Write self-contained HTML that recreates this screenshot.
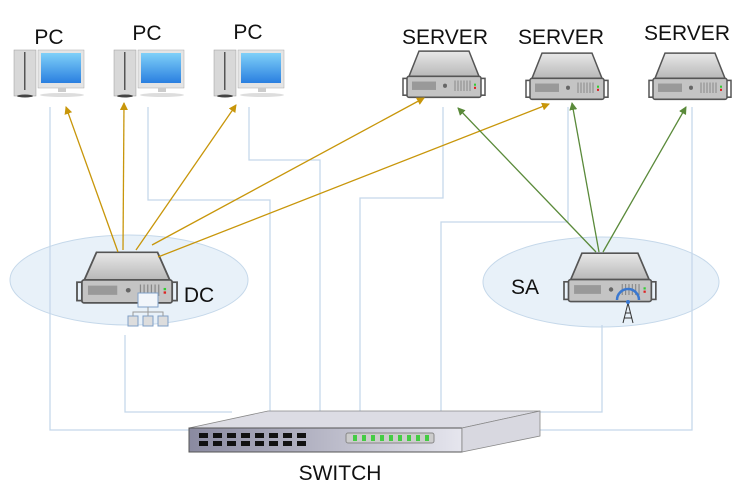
<!DOCTYPE html>
<html><head><meta charset="utf-8"><style>
body{margin:0;background:#fff;}
svg{display:block;font-family:"Liberation Sans",sans-serif;}
</style></head><body>
<svg width="752" height="504" viewBox="0 0 752 504" xmlns="http://www.w3.org/2000/svg">
<defs>
<linearGradient id="scr" x1="0" y1="0" x2="0" y2="1"><stop offset="0" stop-color="#7fd0f8"/><stop offset="1" stop-color="#2a7fe0"/></linearGradient>
<linearGradient id="srv" x1="0" y1="0" x2="0" y2="1"><stop offset="0" stop-color="#e8e8e8"/><stop offset="1" stop-color="#b8b8b8"/></linearGradient>
<linearGradient id="sw" x1="0" y1="0" x2="1" y2="0"><stop offset="0" stop-color="#8a8aa0"/><stop offset="1" stop-color="#e6e6ee"/></linearGradient>
<marker id="ao" markerWidth="8" markerHeight="8" refX="7" refY="4" orient="auto" markerUnits="userSpaceOnUse"><path d="M0,0L8,4L0,8z" fill="#c8960a"/></marker>
<marker id="ag" markerWidth="8" markerHeight="8" refX="7" refY="4" orient="auto" markerUnits="userSpaceOnUse"><path d="M0,0L8,4L0,8z" fill="#5a8a3a"/></marker>
<g id="pc">
<rect x="0" y="0" width="22" height="46" fill="#d8d8d8" stroke="#999" stroke-width="0.5"/>
<rect x="10" y="2" width="1.5" height="38" fill="#555"/>
<rect x="24" y="0" width="46" height="38" fill="#e4e4e4" stroke="#aaa" stroke-width="0.5"/>
<rect x="27" y="3" width="40" height="30" fill="url(#scr)"/>
<rect x="44" y="38" width="8" height="4" fill="#ccc"/>
<ellipse cx="48" cy="45" rx="22" ry="2" fill="#ddd"/>
<ellipse cx="11" cy="46" rx="8" ry="1.5" fill="#444"/>
</g>
<g id="server">
<path d="M6,26 L16,2 L66,2 L76,26 Z" fill="url(#srv)" stroke="#555" stroke-width="1.5"/>
<rect x="0" y="28" width="82" height="16" fill="none" stroke="#555" stroke-width="1.5"/>
<rect x="4" y="26" width="74" height="20" rx="2" fill="#c4c4c4" stroke="#555" stroke-width="1.5"/>
<rect x="9" y="31" width="24" height="8" fill="#999"/>
<circle cx="42" cy="35" r="2" fill="#666"/>
<g stroke="#888" stroke-width="1"><line x1="52" y1="30" x2="52" y2="40"/><line x1="55" y1="30" x2="55" y2="40"/><line x1="58" y1="30" x2="58" y2="40"/><line x1="61" y1="30" x2="61" y2="40"/><line x1="64" y1="30" x2="64" y2="40"/><line x1="67" y1="30" x2="67" y2="40"/></g>
<rect x="71" y="33" width="2" height="2" fill="#3c3"/><rect x="71" y="36" width="2" height="2" fill="#d22"/>
</g>
</defs>

<ellipse cx="129" cy="280" rx="119" ry="45" fill="#e8f1f9" stroke="#c5d8ea"/>
<ellipse cx="601" cy="282" rx="118" ry="45" fill="#e8f1f9" stroke="#c5d8ea"/>

<g fill="none" stroke="#c5d8ea" stroke-width="1.3">
<polyline points="50,107 50,430 190,430"/>
<polyline points="125,335 125,412 232,412"/>
<polyline points="148,107 148,200 270,200 270,412"/>
<polyline points="249,107 249,160 320,160 320,412"/>
<polyline points="443,107 443,198 360,198 360,412"/>
<polyline points="568,107 568,222 441,222 441,412"/>
<polyline points="692,107 692,430 535,430"/>
<polyline points="602,325 602,412 500,412"/>
</g>

<use href="#pc" x="14" y="50"/>
<use href="#pc" x="114" y="50"/>
<use href="#pc" x="214" y="50"/>
<g transform="translate(403,49) scale(1,1.05)"><use href="#server"/></g>
<g transform="translate(526,51) scale(1,1.05)"><use href="#server"/></g>
<g transform="translate(649,51) scale(1,1.05)"><use href="#server"/></g>
<g transform="translate(77,250) scale(1.22,1.15)"><use href="#server"/></g>
<g transform="translate(564,251) scale(1.12,1.1)"><use href="#server"/></g>

<g stroke="#7fa0c8" fill="#f2f6fb" stroke-width="1">
<rect x="138" y="293" width="20" height="14"/>
<rect x="128" y="316" width="10" height="10" fill="#ddd"/><rect x="143" y="316" width="10" height="10" fill="#ddd"/><rect x="158" y="316" width="10" height="10" fill="#ddd"/>
<polyline points="148,307 148,312 133,312 133,316" fill="none" stroke="#999"/><polyline points="148,312 163,312 163,316" fill="none" stroke="#999"/><line x1="148" y1="312" x2="148" y2="316" stroke="#999"/>
</g>
<g stroke="#333" fill="none" stroke-width="1">
<path d="M628,303 L623,323 M628,303 L633,323 M625,313 L631,313 M624,318 L632,318"/>
</g>
<path d="M617,300 A11,11 0 0 1 639,300" stroke="#3a78d0" fill="none" stroke-width="2.5"/>
<circle cx="628" cy="302" r="2" fill="#3a78d0"/>

<g stroke="#c8960a" stroke-width="1.3" fill="none">
<line x1="118" y1="252" x2="66" y2="107" marker-end="url(#ao)"/>
<line x1="123" y1="250" x2="124" y2="103" marker-end="url(#ao)"/>
<line x1="136" y1="250" x2="236" y2="105" marker-end="url(#ao)"/>
<line x1="152" y1="245" x2="424" y2="98" marker-end="url(#ao)"/>
<line x1="158" y1="257" x2="549" y2="104" marker-end="url(#ao)"/>
</g>
<g stroke="#5a8a3a" stroke-width="1.3" fill="none">
<line x1="596" y1="252" x2="458" y2="108" marker-end="url(#ag)"/>
<line x1="599" y1="252" x2="572" y2="103" marker-end="url(#ag)"/>
<line x1="603" y1="252" x2="686" y2="107" marker-end="url(#ag)"/>
</g>

<polygon points="189,428 268,411 540,411 462,428" fill="#dcdce4" stroke="#888" stroke-width="0.8"/>
<rect x="189" y="428" width="273" height="24" fill="url(#sw)" stroke="#555"/>
<polygon points="462,428 540,411 540,436 462,452" fill="#d8d8e0" stroke="#888" stroke-width="0.8"/>
<g fill="#111">
<rect x="199" y="433" width="9" height="5"/><rect x="213" y="433" width="9" height="5"/><rect x="227" y="433" width="9" height="5"/><rect x="241" y="433" width="9" height="5"/><rect x="255" y="433" width="9" height="5"/><rect x="269" y="433" width="9" height="5"/><rect x="283" y="433" width="9" height="5"/><rect x="297" y="433" width="9" height="5"/>
<rect x="199" y="441" width="9" height="5"/><rect x="213" y="441" width="9" height="5"/><rect x="227" y="441" width="9" height="5"/><rect x="241" y="441" width="9" height="5"/><rect x="255" y="441" width="9" height="5"/><rect x="269" y="441" width="9" height="5"/><rect x="283" y="441" width="9" height="5"/><rect x="297" y="441" width="9" height="5"/>
</g>
<rect x="346" y="433" width="88" height="10" rx="2" fill="#ccc" stroke="#888"/>
<g fill="#4c4"><rect x="353" y="435" width="4" height="6"/><rect x="362" y="435" width="4" height="6"/><rect x="371" y="435" width="4" height="6"/><rect x="380" y="435" width="4" height="6"/><rect x="389" y="435" width="4" height="6"/><rect x="398" y="435" width="4" height="6"/><rect x="407" y="435" width="4" height="6"/><rect x="416" y="435" width="4" height="6"/><rect x="425" y="435" width="4" height="6"/></g>

<g fill="#111" font-size="21" text-anchor="middle">
<text x="49" y="44">PC</text>
<text x="147" y="40">PC</text>
<text x="248" y="39">PC</text>
<text x="445" y="44">SERVER</text>
<text x="561" y="44">SERVER</text>
<text x="687" y="40">SERVER</text>
<text x="199" y="302">DC</text>
<text x="525" y="294">SA</text>
<text x="340" y="480">SWITCH</text>
</g>
</svg>
</body></html>
